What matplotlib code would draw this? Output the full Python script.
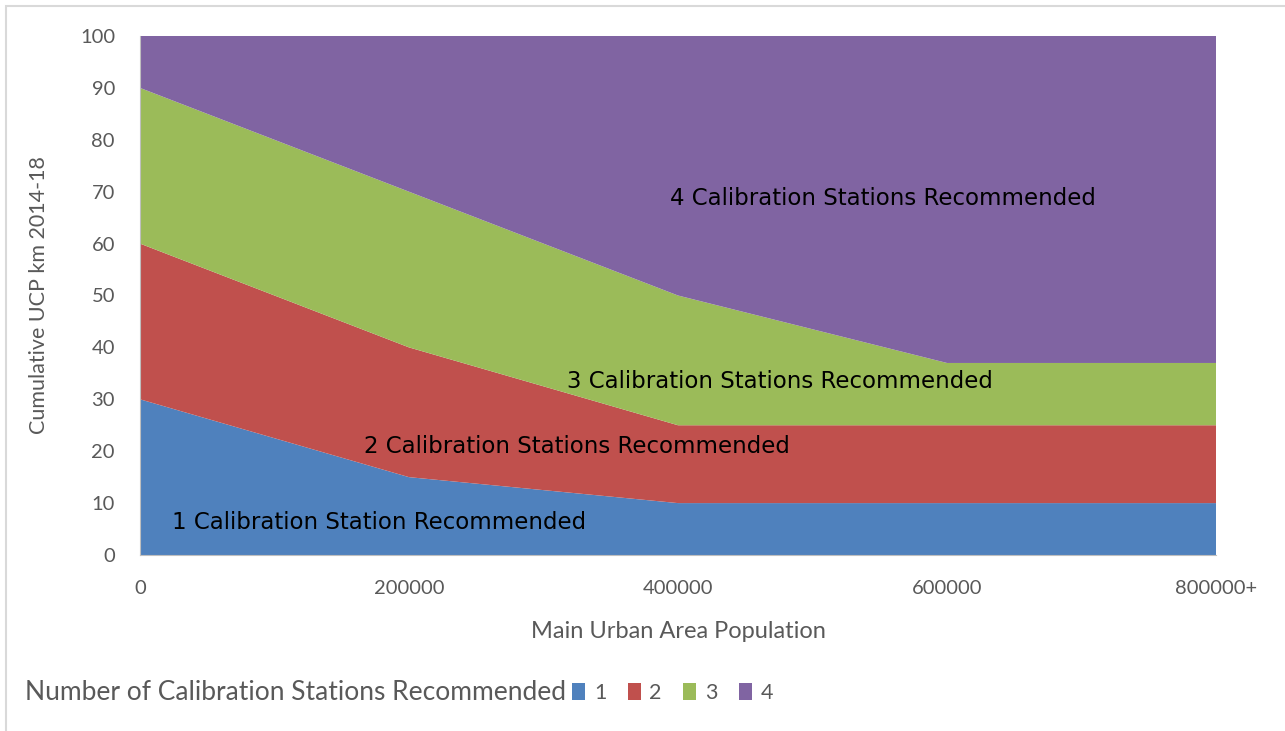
import matplotlib.pyplot as plt
from matplotlib.patches import Patch, Rectangle

# population breakpoints and tick labels
population = [0, 200000, 400000, 600000, 800000]
tick_labels = ["0", "200000", "400000", "600000", "800000+"]

# band thickness (km) for each number of recommended stations
one_station = [30, 15, 10, 10, 10]
two_stations = [30, 25, 15, 15, 15]
three_stations = [30, 30, 25, 12, 12]
four_stations = [10, 30, 50, 63, 63]

series_names = ["1", "2", "3", "4"]
colors = ["#4F81BD", "#C0504D", "#9BBB59", "#8064A2"]

band_labels = [
    ("1 Calibration Station Recommended", 178000, 6.3),
    ("2 Calibration Stations Recommended", 325000, 21.0),
    ("3 Calibration Stations Recommended", 476000, 33.4),
    ("4 Calibration Stations Recommended", 552000, 68.7),
]

plt.rcParams['font.family'] = ['Lato', 'DejaVu Sans']

fig = plt.figure(figsize=(12.85, 7.31), dpi=100)
fig.patches.append(Rectangle((6 / 1285, -0.01), 1.02, 1 - 6 / 731 + 0.01,
                             transform=fig.transFigure, fill=False,
                             edgecolor="#D9D9D9", linewidth=1.5))
ax = fig.add_axes([140 / 1285, 1 - 555 / 731, 1076 / 1285, 519 / 731])

ax.stackplot(population, one_station, two_stations, three_stations, four_stations,
             colors=colors, linewidth=0)

ax.set_xlim(0, 800000)
ax.set_ylim(0, 100)
ax.set_xticks(population)
ax.set_xticklabels(tick_labels)
ax.set_yticks(range(0, 101, 10))
ax.tick_params(length=0, labelsize=14.5, labelcolor="#595959", pad=18)
ax.tick_params(axis='x', pad=18)

for side in ["top", "right"]:
    ax.spines[side].set_visible(False)
ax.spines["left"].set_color("#BFBFBF")
ax.spines["bottom"].set_color("#BFBFBF")

for text, x, y in band_labels:
    ax.text(x, y, text, ha="center", va="center", fontsize=16.5,
            family="DejaVu Sans", color="black")

ax.set_xlabel("Main Urban Area Population", fontsize=17, color="#595959", labelpad=17)
ax.set_ylabel("Cumulative UCP km 2014-18", fontsize=15.5, color="#595959", labelpad=22)

fig.text(25 / 1285, 1 - 693 / 731, "Number of Calibration Stations Recommended",
         fontsize=19, color="#595959", va="center", ha="left")
handles = [Patch(facecolor=c, edgecolor="none") for c in colors]
fig.legend(handles, series_names, loc="center left",
           bbox_to_anchor=(553 / 1285, 1 - 693 / 731), ncol=4, frameon=False,
           fontsize=15.5, labelcolor="#595959", handlelength=0.6, handleheight=0.8,
           handletextpad=0.4, columnspacing=1.0)

fig.savefig("out.png", dpi=100)
